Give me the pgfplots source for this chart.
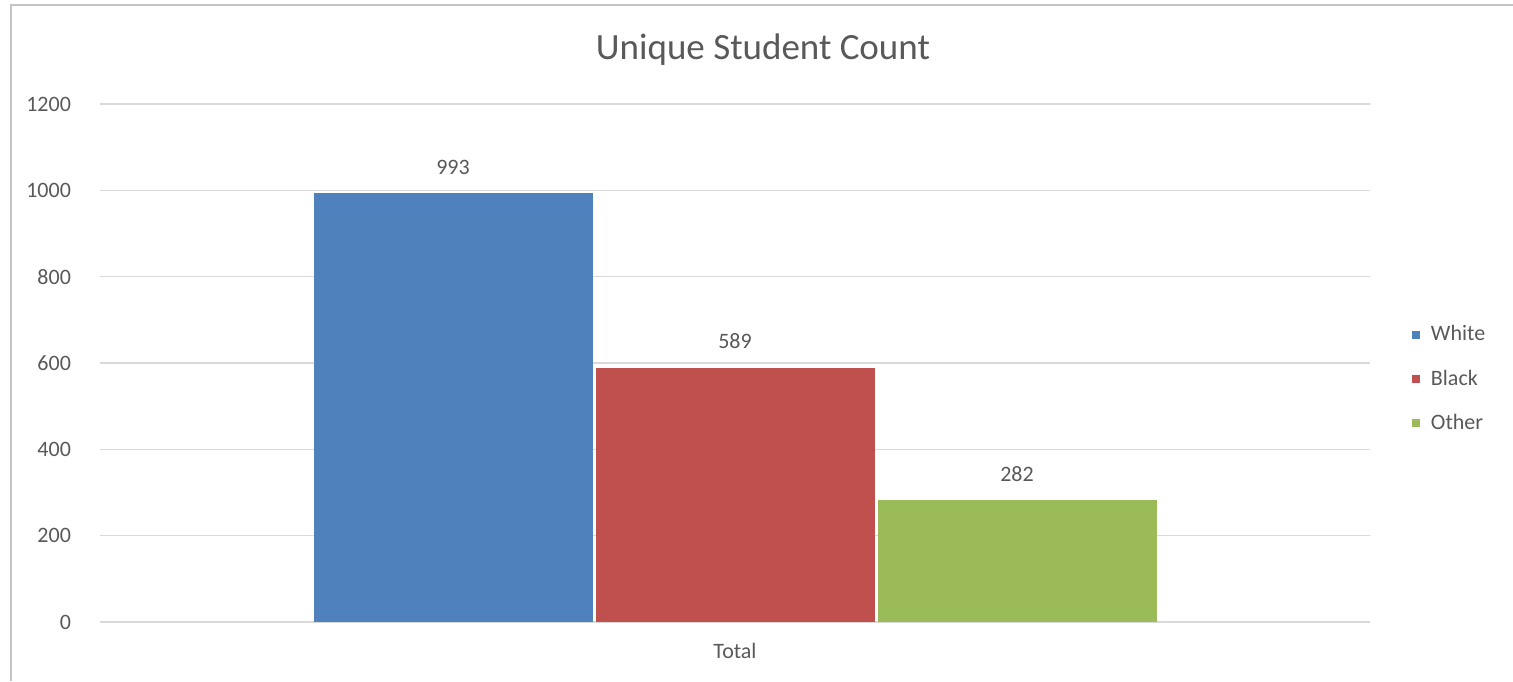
\documentclass[border=0pt]{standalone}
\usepackage{pgfplots}
\pgfplotsset{compat=1.18}
\usepackage{fontspec}
\setmainfont{Carlito}
\definecolor{cw}{HTML}{4F81BD}
\definecolor{cb}{HTML}{C0504D}
\definecolor{co}{HTML}{9BBB59}
\definecolor{txt}{HTML}{595959}
\definecolor{grd}{HTML}{D9D9D9}
\begin{document}
\begin{tikzpicture}[x=1pt,y=1pt]
\path[use as bounding box] (0,0) rectangle (756.5,340.5);
\fill[color=grd!90!black] (5,0) rectangle (6,338.5);
\fill[color=grd!90!black] (5,337.5) rectangle (756.5,338.5);
\node[text=txt, font=\fontsize{18.5}{22}\selectfont] at (381.5,315.5) {Unique Student Count};
\begin{axis}[
  at={(50pt,29.5pt)}, anchor=south west,
  scale only axis, width=635pt, height=259pt,
  ybar=1.5pt, bar width=139.5pt,
  xmin=-1, xmax=1, ymin=0, ymax=1200,
  xtick={0}, xticklabels={Total},
  ytick={0,200,400,600,800,1000,1200},
  axis x line*=bottom, axis y line*=left,
  x axis line style={grd, line width=0.8pt, -},
  y axis line style={draw=none},
  ymajorgrids, grid style={grd, line width=0.8pt},
  major tick length=0pt,
  /pgf/number format/assume math mode=true,
  /pgf/number format/1000 sep={},
  tick label style={text=txt, font=\fontsize{11}{13}\selectfont},
  yticklabel style={xshift=-11pt},
  xticklabel style={yshift=-7pt},
  nodes near coords,
  every node near coord/.append style={text=txt, font=\fontsize{11}{13}\selectfont, yshift=6pt},
  legend style={at={(1.028,0.469)}, anchor=west, draw=none, fill=none,
     font=\fontsize{11}{13}\selectfont, text=txt, row sep=9pt,
     /tikz/every odd column/.append style={column sep=3.5pt}},
  legend cell align=left,
  legend image code/.code={\fill[#1] (0pt,-2pt) rectangle (4pt,2pt);},
]
\addplot[fill=cw, draw=none] coordinates {(0,993)};
\addplot[fill=cb, draw=none] coordinates {(0,589)};
\addplot[fill=co, draw=none] coordinates {(0,282)};
\legend{White,Black,Other}
\end{axis}
\end{tikzpicture}
\end{document}
